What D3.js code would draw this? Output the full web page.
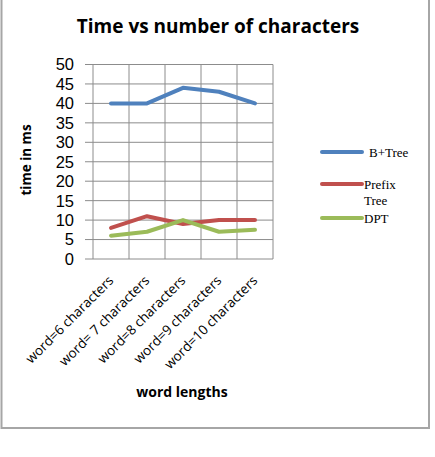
<!DOCTYPE html>
<html>
<head>
<meta charset="utf-8">
<script src="https://cdn.jsdelivr.net/npm/d3@7"></script>
<style>
  body { margin: 0; background: #fff; }
  text { font-family: "Open Sans", "Liberation Sans", sans-serif; }
  text.serif { font-family: "Liberation Serif", "DejaVu Serif", serif; }
  text.tick { font-family: "Liberation Sans", Arial, sans-serif; }
</style>
</head>
<body>
<div id="chart"></div>
<script>
var categories = ['word=6 characters', 'word= 7 characters', 'word=8 characters', 'word=9 characters', 'word=10 characters'];
var bplusTree = [40, 40, 44, 43, 40];
var prefixTree = [8, 11, 9, 10, 10];
var dpt = [6, 7, 10, 7, 7.5];
var yTicks = [0, 5, 10, 15, 20, 25, 30, 35, 40, 45, 50];
var seriesNames = ['B+Tree', 'Prefix Tree', 'DPT'];

var width = 435, height = 457;
var plot = {left: 93, right: 273, top: 64.5, bottom: 259};
var colors = ['#4f81bd', '#c0504d', '#9bbb59'];

var svg = d3.select('#chart').append('svg')
    .attr('width', width).attr('height', height);

// outer frame
svg.append('rect')
    .attr('x', 1.5).attr('y', -1).attr('width', 427.5).attr('height', 429)
    .attr('fill', 'none').attr('stroke', '#a6a6a6').attr('stroke-width', 2);

var xScale = d3.scaleBand().domain(categories).range([plot.left, plot.right]);
var yScale = d3.scaleLinear().domain([0, 50]).range([plot.bottom, plot.top]);

// horizontal grid
svg.append('g').selectAll('line').data(yTicks).enter().append('line')
    .attr('x1', plot.left - 8).attr('x2', plot.right)
    .attr('y1', function (d) { return yScale(d); })
    .attr('y2', function (d) { return yScale(d); })
    .attr('stroke', '#8c8c8c').attr('stroke-width', 1);

// vertical grid
var vx = categories.map(function (c) { return xScale(c); }).concat([plot.right]);
svg.append('g').selectAll('line').data(vx).enter().append('line')
    .attr('x1', function (d) { return d; }).attr('x2', function (d) { return d; })
    .attr('y1', plot.top).attr('y2', plot.bottom)
    .attr('stroke', '#8c8c8c').attr('stroke-width', 1);

// y tick labels
svg.append('g').selectAll('text').data(yTicks).enter().append('text')
    .attr('class', 'tick')
    .attr('x', plot.left - 19)
    .attr('y', function (d) { return yScale(d); })
    .attr('dy', '0.36em')
    .attr('text-anchor', 'end')
    .attr('font-size', 16.5)
    .attr('fill', '#000')
    .text(function (d) { return d; });

// x tick labels
svg.append('g').selectAll('text').data(categories).enter().append('text')
    .attr('transform', function (d) {
        return 'translate(' + (xScale(d) + xScale.bandwidth() / 2) + ',' + (plot.bottom + 19) + ') rotate(-45)';
    })
    .attr('text-anchor', 'end')
    .attr('dy', '0.35em')
    .attr('font-size', 13.5)
    .attr('fill', '#000')
    .text(function (d) { return d; });

// lines
var line = d3.line()
    .x(function (d, i) { return xScale(categories[i]) + xScale.bandwidth() / 2; })
    .y(function (d) { return yScale(d); });
[bplusTree, prefixTree, dpt].forEach(function (s, i) {
    svg.append('path')
        .attr('d', line(s))
        .attr('fill', 'none')
        .attr('stroke', colors[i])
        .attr('stroke-width', 4)
        .attr('stroke-linejoin', 'round')
        .attr('stroke-linecap', 'round');
});

// title
svg.append('text')
    .attr('x', 218).attr('y', 33)
    .attr('text-anchor', 'middle')
    .attr('font-size', 19).attr('font-weight', 'bold')
    .text('Time vs number of characters');

// axis titles
svg.append('text')
    .attr('transform', 'translate(31,160) rotate(-90)')
    .attr('text-anchor', 'middle')
    .attr('font-size', 13.5).attr('font-weight', 'bold')
    .text('time in ms');
svg.append('text')
    .attr('x', 182).attr('y', 397)
    .attr('text-anchor', 'middle')
    .attr('font-size', 14).attr('font-weight', 'bold')
    .text('word lengths');

// legend
var legY = [152, 184, 218];
var lg = svg.append('g');
seriesNames.forEach(function (n, i) {
    lg.append('line')
        .attr('x1', 322).attr('x2', 362)
        .attr('y1', legY[i]).attr('y2', legY[i])
        .attr('stroke', colors[i]).attr('stroke-width', 4)
        .attr('stroke-linecap', 'round');
    var words = n === 'Prefix Tree' ? ['Prefix', 'Tree'] : [n];
    words.forEach(function (w, j) {
        lg.append('text')
            .attr('class', 'serif')
            .attr('x', i === 0 ? 369 : 364)
            .attr('y', legY[i] + 5 + j * 16)
            .attr('font-size', 13)
            .text(w);
    });
});
</script>
</body>
</html>
